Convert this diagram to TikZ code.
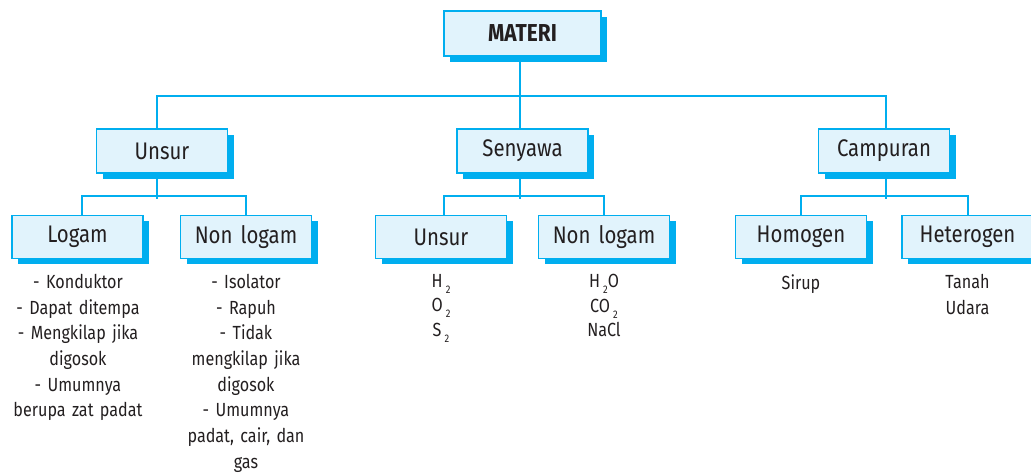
\documentclass[tikz,border=0pt]{standalone}
\usepackage{fontspec}
\setmainfont{Fira Sans}[FakeStretch=0.85,WordSpace=1.5]
\usetikzlibrary{shadows}
\definecolor{cyanline}{HTML}{00AEEF}
\definecolor{boxfill}{HTML}{E1F3FC}
\definecolor{ink}{HTML}{231F20}
\newcommand\chemsub[1]{\,\raisebox{-6pt}{\fontsize{11}{11}\selectfont #1}}
\tikzset{
  conceptbox/.style={draw=cyanline, fill=boxfill, line width=1.3pt,
    minimum width=131pt, minimum height=43pt, inner sep=0pt,
    text=ink, font=\fontsize{24}{28}\selectfont,
    drop shadow={shadow xshift=6pt, shadow yshift=-6pt, fill=cyanline, opacity=1}},
  link/.style={draw=cyanline, line width=2pt},
  listtext/.style={anchor=north, align=center, inner sep=0pt, text=ink,
    font=\fontsize{19}{25.7}\selectfont},
  chemtext/.style={anchor=north, align=center, inner sep=0pt, text=ink,
    font=\fontsize{19}{24.5}\selectfont}
}
\begin{document}
\begin{tikzpicture}[x=1pt,y=-1pt]
\useasboundingbox (0,0) rectangle (1031,473);
% level 1
\node[conceptbox, minimum width=157pt, minimum height=45pt, font=\fontsize{24.5}{28}\bfseries\selectfont] (materi) at (522.5,33.5) {MATERI};
% level 2
\node[conceptbox, minimum height=44pt] (unsur) at (162,151) {Unsur};
\node[conceptbox, minimum height=44pt] (senyawa) at (522.5,151) {Senyawa};
\node[conceptbox, minimum height=44pt] (campuran) at (884,151) {Campuran};
% level 3
\node[conceptbox] (logam) at (77.5,237) {Logam};
\node[conceptbox] (nonlogam) at (246,237) {Non logam};
\node[conceptbox] (unsurb) at (441,237) {Unsur};
\node[conceptbox] (nonlogamb) at (604,237) {Non logam};
\node[conceptbox] (homogen) at (801,237) {Homogen};
\node[conceptbox] (heterogen) at (967.5,237) {Heterogen};
% connectors
\draw[link] ([xshift=-2.5pt]materi.south) -- ([xshift=-2.5pt]senyawa.north);
\draw[link] ([xshift=-5pt]unsur.north) -- ++(0,-32.5) -| ([xshift=2pt]campuran.north);
\draw[link] ([xshift=-5pt]unsur.south) -- ++(0,25);
\draw[link] ([xshift=-2.5pt]senyawa.south) -- ++(0,25);
\draw[link] ([xshift=2pt]campuran.south) -- ++(0,25);
\draw[link] ([xshift=4.5pt]logam.north) -- ++(0,-18.5) -| (nonlogam.north);
\draw[link] ([xshift=3pt]unsurb.north) -- ++(0,-18.5) -| (nonlogamb.north);
\draw[link] (homogen.north) -- ++(0,-18.5) -| (heterogen.north);
% lists
\node[listtext] (logamlist) at (78,274) {- Konduktor\\- Dapat ditempa\\- Mengkilap jika\\digosok\\- Umumnya\\berupa zat padat};
\node[listtext] (nonlogamlist) at (246,274) {- Isolator\\- Rapuh\\- Tidak\\mengkilap jika\\digosok\\- Umumnya\\padat, cair, dan\\gas};
\node[chemtext] (unsurlist) at (441,274) {H\chemsub{2}\\O\chemsub{2}\\S\chemsub{2}};
\node[chemtext] (nonlogamblist) at (604,274) {H\chemsub{2}O\\CO\chemsub{2}\\NaCl};
\node[listtext] (homogenlist) at (801,274) {Sirup};
\node[listtext] (heterogenlist) at (967.5,274) {Tanah\\Udara};
\end{tikzpicture}
\end{document}
